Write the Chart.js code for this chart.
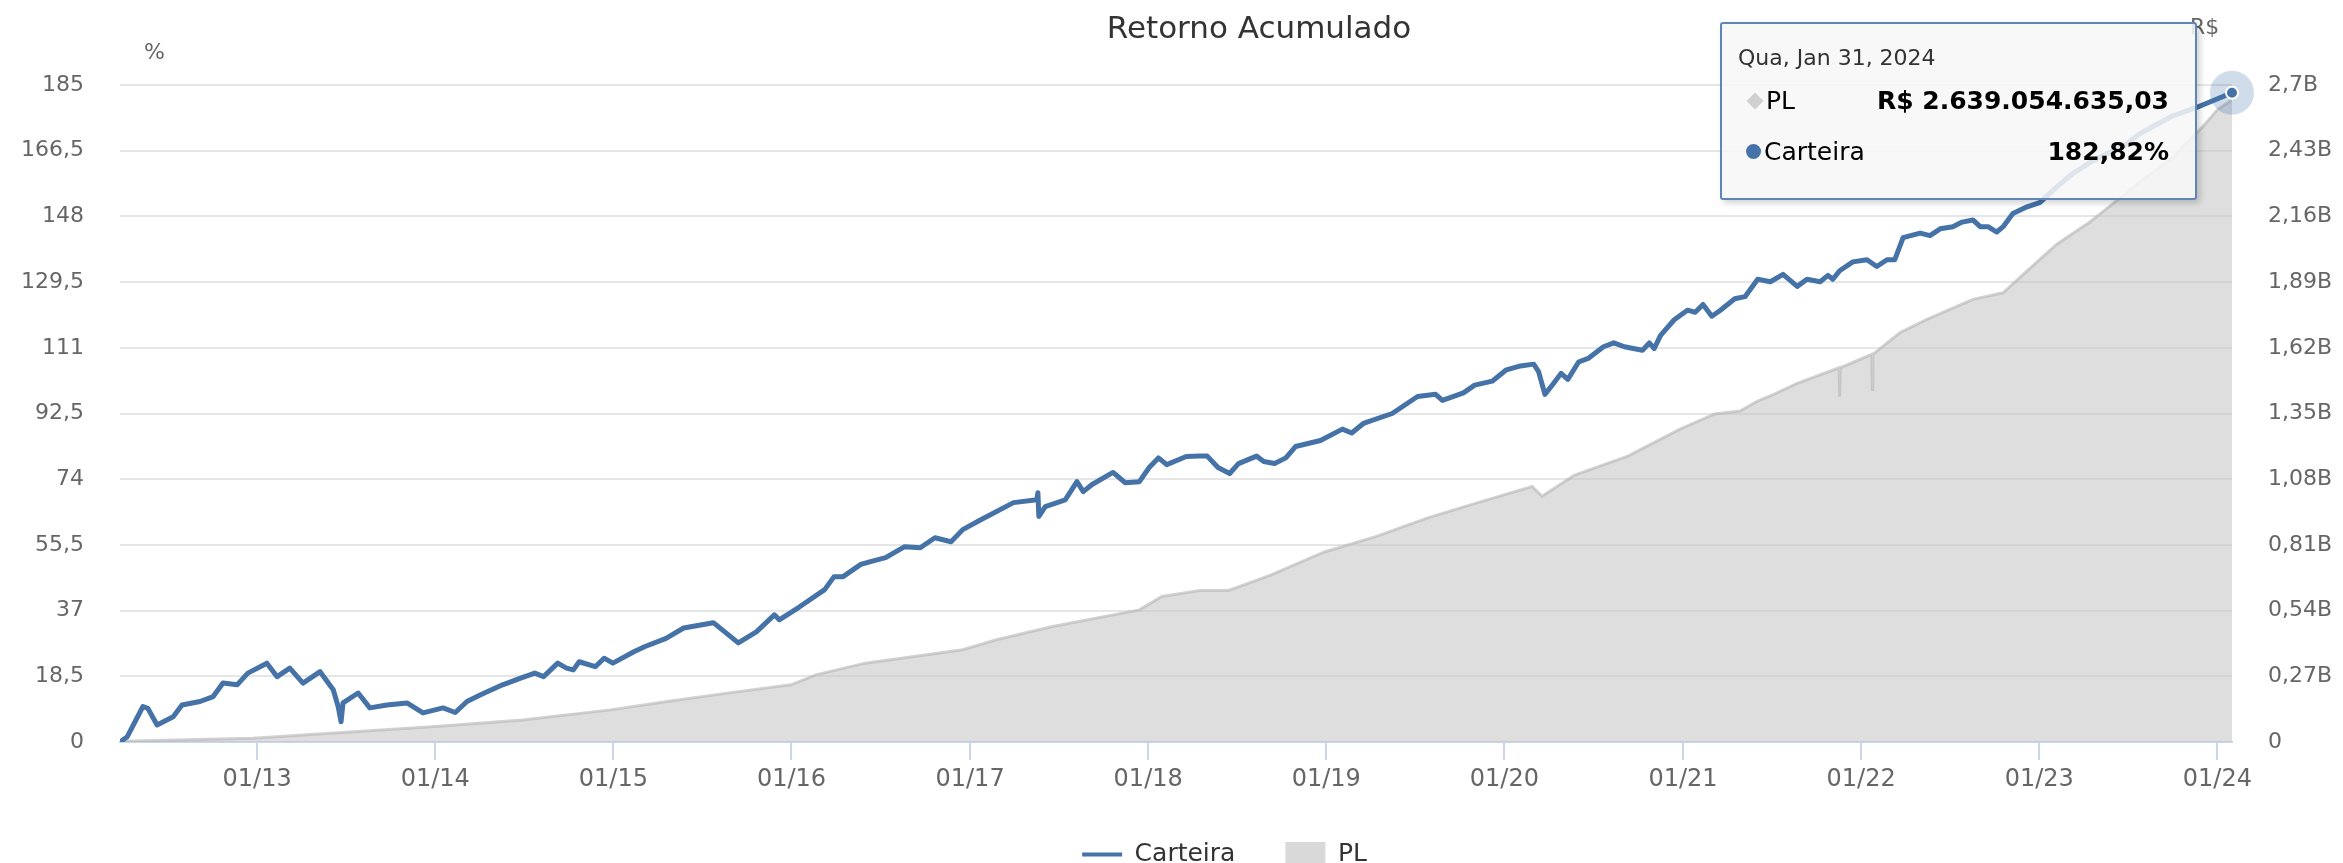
<!DOCTYPE html>
<html lang="pt-br">
<head>
<meta charset="UTF-8">
<title>Retorno Acumulado</title>
<script src="https://cdn.jsdelivr.net/npm/chart.js"></script>
<style>
  body { margin: 0; background: #fff; font-family: 'DejaVu Sans', Verdana, sans-serif; }
  #wrap { position: relative; width: 2343px; height: 863px; overflow: hidden; }
  #tip {
    position: absolute; display: none; box-sizing: border-box;
    width: 477px; height: 178px;
    background: rgba(247, 247, 247, 0.86);
    border: 2px solid #5f86b8; border-radius: 3px;
    box-shadow: 3px 3px 6px rgba(0, 0, 0, 0.18);
    color: #333; pointer-events: none;
  }
  #tip .data { position: absolute; left: 16px; top: 21px; font-size: 22px; line-height: 26px; color: #333; }
  #tip .linha {
    position: absolute; left: 24px; right: 26px; height: 32px; line-height: 32px;
    display: flex; align-items: center; font-size: 25px; color: #000;
  }
  #tip .linha b { margin-left: auto; font-size: 25px; }
  #tip .mk { display: inline-block; margin-right: 3px; }
  #tip .losango { width: 12px; height: 12px; background: #d0d0d0; transform: rotate(45deg); margin: 0 5px 0 3px; }
  #tip .bola { width: 15px; height: 15px; border-radius: 50%; background: #4572a7; margin-right: 3px; }
</style>
</head>
<body>
<div id="wrap">
  <canvas id="retorno" width="2343" height="863"></canvas>
  <div id="tip"></div>
</div>

<script>
// Carteira: retorno acumulado (%)
const carteiraDatas = [
  '2012-03-26', '2012-04-10', '2012-05-12', '2012-05-22', '2012-06-10', '2012-07-13', '2012-07-31',
  '2012-09-06', '2012-10-03', '2012-10-23', '2012-11-21', '2012-12-13', '2013-01-21', '2013-02-11',
  '2013-03-09', '2013-04-05', '2013-05-10', '2013-06-06', '2013-06-16', '2013-06-22', '2013-06-26',
  '2013-07-27', '2013-08-20', '2013-09-24', '2013-11-04', '2013-12-07', '2014-01-17', '2014-02-11',
  '2014-03-07', '2014-04-04', '2014-05-19', '2014-06-25', '2014-07-24', '2014-08-11', '2014-09-09',
  '2014-09-27', '2014-10-11', '2014-10-23', '2014-11-25', '2014-12-13', '2014-12-31', '2015-02-13',
  '2015-03-07', '2015-04-19', '2015-05-25', '2015-07-25', '2015-09-14', '2015-10-21', '2015-11-27',
  '2015-12-07', '2016-01-17', '2016-03-09', '2016-03-28', '2016-04-15', '2016-05-22', '2016-06-11',
  '2016-07-12', '2016-08-20', '2016-09-21', '2016-10-21', '2016-11-23', '2016-12-17', '2017-01-23',
  '2017-03-31', '2017-05-18', '2017-05-20', '2017-05-22', '2017-06-04', '2017-07-15', '2017-08-08',
  '2017-08-21', '2017-09-08', '2017-10-21', '2017-11-15', '2017-12-14', '2018-01-03', '2018-01-22',
  '2018-02-08', '2018-03-20', '2018-04-17', '2018-05-02', '2018-05-24', '2018-06-17', '2018-07-05',
  '2018-08-11', '2018-08-26', '2018-09-17', '2018-10-10', '2018-10-30', '2018-12-20', '2019-02-03',
  '2019-02-22', '2019-03-18', '2019-05-16', '2019-07-07', '2019-08-13', '2019-08-27', '2019-10-09',
  '2019-11-01', '2019-12-07', '2020-01-05', '2020-02-03', '2020-03-01', '2020-03-11', '2020-03-24',
  '2020-04-11', '2020-04-26', '2020-05-10', '2020-06-01', '2020-06-22', '2020-07-22', '2020-08-12',
  '2020-09-03', '2020-09-21', '2020-10-10', '2020-10-24', '2020-11-03', '2020-11-16', '2020-12-14',
  '2021-01-10', '2021-01-26', '2021-02-11', '2021-03-01', '2021-03-18', '2021-04-17', '2021-05-08',
  '2021-06-03', '2021-06-29', '2021-07-25', '2021-08-23', '2021-09-12', '2021-10-09', '2021-10-25',
  '2021-11-04', '2021-11-18', '2021-12-15', '2022-01-13', '2022-02-02', '2022-02-23', '2022-03-11',
  '2022-03-28', '2022-05-02', '2022-05-22', '2022-06-12', '2022-07-08', '2022-07-27', '2022-08-18',
  '2022-09-02', '2022-09-18', '2022-10-06', '2022-10-19', '2022-11-08', '2022-12-07', '2023-01-02',
  '2023-02-06', '2023-03-10', '2023-04-14', '2023-05-18', '2023-06-20', '2023-07-25', '2023-09-04',
  '2023-09-30', '2023-11-18', '2024-01-31'
];
const carteiraValores = [
  0, 1.5, 10, 9.5, 4.8, 7.1, 10.4,
  11.4, 12.8, 16.6, 16.1, 19.4, 22.2, 18.4,
  20.8, 16.6, 19.8, 14.7, 10, 5.7, 11,
  13.8, 9.6, 10.4, 11, 8.2, 9.6, 8.3,
  11.4, 13.3, 16.1, 18, 19.4, 18.4, 22.2,
  20.8, 20.3, 22.6, 21.2, 23.6, 22.2, 25.5,
  26.9, 29.2, 32.1, 33.6, 27.9, 31, 35.8,
  34.4, 38, 42.9, 46.5, 46.5, 50, 50.8,
  51.9, 55, 54.7, 57.5, 56.4, 59.8, 62.6,
  67.4, 68.2, 70.2, 63.5, 66.3, 68.2, 73.3,
  70.5, 72.5, 75.9, 73, 73.3, 77.3, 80,
  78.1, 80.4, 80.5, 80.5, 77.3, 75.6, 78.4,
  80.5, 79, 78.4, 80, 83.2, 84.9, 88.1,
  87, 89.7, 92.5, 97.3, 97.9, 96.2, 98.3,
  100.5, 101.6, 104.8, 105.9, 106.4, 104.3, 97.9,
  101, 103.8, 102.1, 107, 108.1, 111.3, 112.4,
  111.3, 110.8, 110.3, 112.4, 110.8, 114.5, 118.9,
  121.6, 121, 123.2, 119.9, 121.5, 124.8, 125.4,
  130.3, 129.6, 131.7, 128.3, 130.3, 129.6, 131.4,
  130.3, 132.7, 135.2, 135.8, 133.9, 135.8, 135.8,
  142, 143.3, 142.6, 144.5, 145.1, 146.4, 147,
  145.1, 145.1, 143.6, 145.1, 148.8, 150.7, 151.9,
  156.3, 160, 163.1, 165.6, 167.5, 171.2, 174.3,
  176.2, 178.6, 182.82
];

// PL (R$ bilhões)
const plDatas = [
  '2012-03-26', '2012-12-23', '2013-12-24', '2014-06-29', '2014-12-26', '2015-04-21', '2015-09-14',
  '2015-12-31', '2016-02-20', '2016-05-31', '2016-12-17', '2017-02-24', '2017-06-19', '2017-12-14',
  '2018-01-29', '2018-04-17', '2018-06-15', '2018-09-09', '2018-12-28', '2019-04-12', '2019-07-31',
  '2019-11-11', '2020-02-27', '2020-03-18', '2020-05-23', '2020-09-10', '2020-12-25', '2021-03-07',
  '2021-04-28', '2021-06-02', '2021-07-07', '2021-08-23', '2021-11-17', '2021-11-18', '2021-11-19',
  '2022-01-23', '2022-01-24', '2022-01-25', '2022-03-22', '2022-05-16', '2022-08-18', '2022-10-19',
  '2022-11-27', '2023-02-06', '2023-04-14', '2023-05-18', '2023-07-25', '2023-09-30', '2023-12-05',
  '2024-01-01', '2024-01-31'
];
const plValores = [
  0.003, 0.015, 0.063, 0.09, 0.132, 0.166, 0.207,
  0.235, 0.276, 0.324, 0.379, 0.42, 0.475, 0.543,
  0.598, 0.623, 0.623, 0.686, 0.781, 0.844, 0.923,
  0.986, 1.05, 1.01, 1.096, 1.175, 1.285, 1.348,
  1.36, 1.40, 1.43, 1.474, 1.538, 1.42, 1.538,
  1.593, 1.449, 1.593, 1.683, 1.737, 1.819, 1.846,
  1.918, 2.046, 2.136, 2.19, 2.3, 2.4, 2.535,
  2.598, 2.63905463503
];

const eixoEsqTicks = [0, 18.5, 37, 55.5, 74, 92.5, 111, 129.5, 148, 166.5, 185];
const eixoDirTicks = [0, 0.27, 0.54, 0.81, 1.08, 1.35, 1.62, 1.89, 2.16, 2.43, 2.7];
const eixoXDatas = ['2013-01-01', '2014-01-01', '2015-01-01', '2016-01-01', '2017-01-01', '2018-01-01',
  '2019-01-01', '2020-01-01', '2021-01-01', '2022-01-01', '2023-01-01', '2024-01-01'];
const eixoXRotulos = ['01/13', '01/14', '01/15', '01/16', '01/17', '01/18',
  '01/19', '01/20', '01/21', '01/22', '01/23', '01/24'];

const FONTE = '"DejaVu Sans", Verdana, sans-serif';
const AZUL = '#4572a7';
const diasSemana = ['Dom', 'Seg', 'Ter', 'Qua', 'Qui', 'Sex', 'Sáb'];
const meses = ['Jan', 'Fev', 'Mar', 'Abr', 'Mai', 'Jun', 'Jul', 'Ago', 'Set', 'Out', 'Nov', 'Dez'];

const virgula = v => String(v).replace('.', ',');
function formataReais(v) {
  const [inteiro, dec] = v.toFixed(2).split('.');
  return 'R$ ' + inteiro.replace(/\B(?=(\d{3})+(?!\d))/g, '.') + ',' + dec;
}
const pontos = (datas, vals) => datas.map((d, i) => ({ x: Date.parse(d), y: vals[i] }));

// tooltip em HTML, posicionado pelo ponto ativo
function desenhaTooltip({ tooltip }) {
  const tip = document.getElementById('tip');
  const itens = tooltip.dataPoints || [];
  const pC = itens.find(d => d.datasetIndex === 0);
  const pP = itens.find(d => d.datasetIndex === 1);
  if (!pC || !pP) { tip.style.display = 'none'; return; }
  const dt = new Date(pC.parsed.x);
  const data = diasSemana[dt.getUTCDay()] + ', ' + meses[dt.getUTCMonth()] + ' ' +
    dt.getUTCDate() + ', ' + dt.getUTCFullYear();
  tip.innerHTML =
    '<div class="data">' + data + '</div>' +
    '<div class="linha" style="top:61px"><span class="mk losango"></span>PL<b>' +
      formataReais(pP.parsed.y * 1e9) + '</b></div>' +
    '<div class="linha" style="top:112px"><span class="mk bola"></span>Carteira<b>' +
      virgula(pC.parsed.y.toFixed(2)) + '%</b></div>';
  tip.style.left = (pC.element.x - 512) + 'px';
  tip.style.top = (pC.element.y - 71) + 'px';
  tip.style.display = 'block';
}

// título e unidades dos eixos
const textos = {
  id: 'textos',
  beforeDraw(ch) {
    const { ctx, chartArea: a } = ch;
    ctx.save();
    ctx.textBaseline = 'middle';
    ctx.textAlign = 'center';
    ctx.fillStyle = '#333';
    ctx.font = '31px ' + FONTE;
    ctx.fillText('Retorno Acumulado', (a.left + a.right) / 2 + 83, 30);
    ctx.fillStyle = '#666';
    ctx.font = '22px ' + FONTE;
    ctx.textAlign = 'left';
    ctx.fillText('%', a.left + 24, 53);
    ctx.fillText('R$', a.right - 42, 28);
    ctx.restore();
  }
};

// halo do ponto destacado
const halo = {
  id: 'halo',
  afterDatasetsDraw(ch) {
    const meta = ch.getDatasetMeta(0);
    const p = meta.data[meta.data.length - 1];
    const ctx = ch.ctx;
    ctx.save();
    ctx.beginPath();
    ctx.arc(p.x, p.y, 22, 0, Math.PI * 2);
    ctx.fillStyle = 'rgba(69, 114, 167, 0.25)';
    ctx.fill();
    ctx.beginPath();
    ctx.arc(p.x, p.y, 6, 0, Math.PI * 2);
    ctx.fillStyle = AZUL;
    ctx.fill();
    ctx.lineWidth = 2;
    ctx.strokeStyle = '#fff';
    ctx.stroke();
    ctx.restore();
  }
};

Chart.defaults.font.family = FONTE;

const chart = new Chart(document.getElementById('retorno'), {
  type: 'line',
  data: {
    datasets: [
      {
        label: 'Carteira',
        data: pontos(carteiraDatas, carteiraValores),
        yAxisID: 'y',
        borderColor: AZUL,
        borderWidth: 5,
        borderJoinStyle: 'round',
        pointRadius: 0,
        tension: 0,
        fill: false
      },
      {
        label: 'PL',
        data: pontos(plDatas, plValores),
        yAxisID: 'y1',
        borderColor: 'rgba(180, 180, 180, 0.6)',
        borderWidth: 3,
        backgroundColor: 'rgba(195, 195, 195, 0.55)',
        fill: 'origin',
        pointRadius: 0,
        tension: 0
      }
    ]
  },
  options: {
    responsive: false,
    animation: false,
    events: [],
    // direita negativa: a legenda fica deslocada como no original
    layout: { padding: { left: 0, right: -106, top: 85, bottom: -14 } },
    plugins: {
      title: { display: false },
      legend: {
        position: 'bottom',
        labels: {
          usePointStyle: true,
          pointStyleWidth: 40,
          boxHeight: 25,
          padding: 50,
          color: '#333',
          font: { size: 25 },
          generateLabels: ch => ch.data.datasets.map((ds, i) => ({
            text: ds.label,
            datasetIndex: i,
            hidden: false,
            pointStyle: i === 0 ? 'line' : 'rect',
            fillStyle: i === 0 ? AZUL : '#d9d9d9',
            strokeStyle: i === 0 ? AZUL : '#d9d9d9',
            lineWidth: i === 0 ? 4 : 0,
            fontColor: '#333'
          }))
        }
      },
      tooltip: { enabled: false, external: desenhaTooltip }
    },
    scales: {
      x: {
        type: 'linear',
        min: Date.parse(carteiraDatas[0]),
        max: Date.parse(carteiraDatas[carteiraDatas.length - 1]),
        afterBuildTicks: s => { s.ticks = eixoXDatas.map(d => ({ value: Date.parse(d) })); },
        afterFit: s => { s.height = 50; },
        ticks: {
          autoSkip: false, maxRotation: 0, padding: 5, color: '#666',
          font: { size: 24 },
          callback: (v, i) => eixoXRotulos[i]
        },
        grid: { drawOnChartArea: false, drawTicks: true, tickLength: 18, color: '#ccd6eb', lineWidth: 2 },
        border: { color: '#ccd6eb', width: 2 }
      },
      y: {
        position: 'left',
        min: 0, max: 185,
        afterBuildTicks: s => { s.ticks = eixoEsqTicks.map(v => ({ value: v })); },
        afterFit: s => { s.width = 120; },
        ticks: { padding: 36, color: '#666', font: { size: 22 }, callback: v => virgula(v) },
        grid: { color: '#e6e6e6', lineWidth: 2, drawTicks: false },
        border: { display: false }
      },
      y1: {
        position: 'right',
        min: 0, max: 2.7,
        afterBuildTicks: s => { s.ticks = eixoDirTicks.map(v => ({ value: v })); },
        afterFit: s => { s.width = 217; },
        ticks: { padding: 36, color: '#666', font: { size: 22 }, callback: v => v === 0 ? '0' : virgula(v) + 'B' },
        grid: { drawOnChartArea: false, drawTicks: false },
        border: { display: false }
      }
    }
  },
  plugins: [textos, halo]
});

// destaca o último dia, como no original
const mC = chart.getDatasetMeta(0), mP = chart.getDatasetMeta(1);
const elC = mC.data[mC.data.length - 1];
chart.tooltip.setActiveElements([
  { datasetIndex: 1, index: mP.data.length - 1 },
  { datasetIndex: 0, index: mC.data.length - 1 }
], { x: elC.x, y: elC.y });
</script>
</body>
</html>
